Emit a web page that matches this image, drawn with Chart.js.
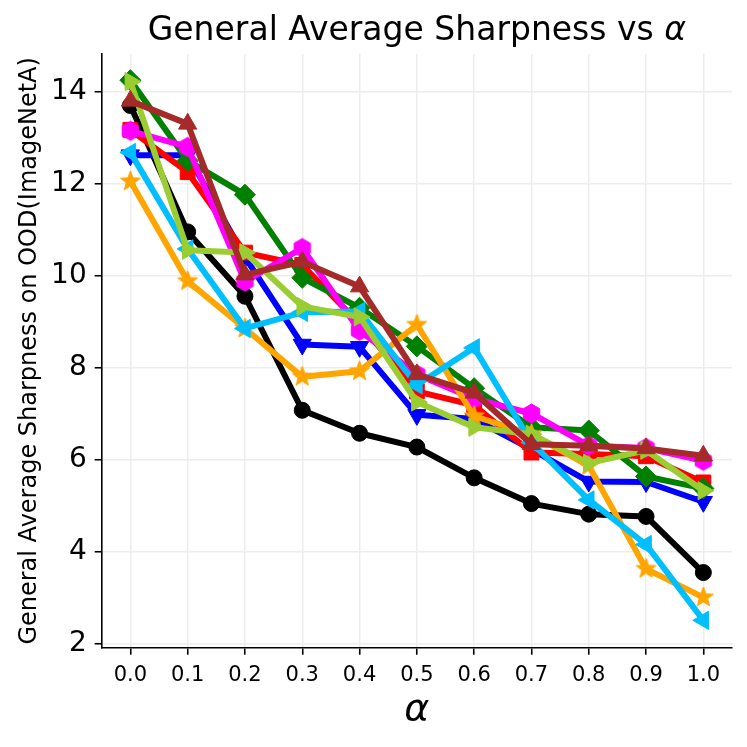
<!DOCTYPE html>
<html><head><meta charset="utf-8">
<script src="https://cdn.jsdelivr.net/npm/chart.js@4.4.1/dist/chart.umd.min.js"></script>
<style>html,body{margin:0;padding:0;background:#fff}#wrap{width:747px;height:747px;position:relative}</style>
</head><body><div id="wrap"><canvas id="c" width="747" height="747"></canvas></div>
<script>
// ---- data ----
const alphaLabels = ['0.0','0.1','0.2','0.3','0.4','0.5','0.6','0.7','0.8','0.9','1.0'];
const yTickValues = [2, 4, 6, 8, 10, 12, 14];
const seriesBlack   = [13.70, 10.95, 9.55, 7.07, 6.57, 6.27, 5.60, 5.04, 4.81, 4.76, 3.54];
const seriesBlue    = [12.62, 12.62, 10.40, 8.50, 8.45, 6.97, 6.88, 6.22, 5.52, 5.51, 5.08];
const seriesRed     = [13.17, 12.25, 10.50, 10.23, 8.95, 7.48, 7.18, 6.15, 6.12, 6.07, 5.50];
const seriesGreen   = [14.25, 12.50, 11.76, 9.95, 9.30, 8.46, 7.55, 6.70, 6.63, 5.63, 5.37];
const seriesMagenta = [13.15, 12.80, 9.87, 10.60, 8.80, 7.85, 7.32, 7.00, 6.30, 6.25, 5.97];
const seriesOrange  = [12.05, 9.88, 8.85, 7.80, 7.92, 8.93, 6.94, 6.55, 5.86, 3.62, 3.00];
const seriesCyan    = [12.68, 10.58, 8.85, 9.20, 9.22, 7.62, 8.43, 6.37, 5.12, 4.15, 2.50];
const seriesLime    = [14.22, 10.55, 10.50, 9.33, 9.10, 7.25, 6.70, 6.55, 5.92, 6.20, 5.32];
const seriesBrown   = [13.80, 13.30, 10.02, 10.30, 9.76, 7.85, 7.45, 6.33, 6.30, 6.24, 6.08];

const titleText = 'General Average Sharpness vs ';
const titleSymbol = 'α';
const yAxisTitle = 'General Average Sharpness on OOD(ImageNetA)';
const xAxisTitle = 'α';

// ---- custom filled markers (hexagon, star) ----
function polygonMarker(color, pts, size) {
  const c = document.createElement('canvas');
  c.width = size; c.height = size;
  const g = c.getContext('2d');
  g.fillStyle = color; g.strokeStyle = color; g.lineWidth = 1;
  g.beginPath();
  pts.forEach((p, i) => { const x = size/2 + p[0], y = size/2 + p[1]; i ? g.lineTo(x, y) : g.moveTo(x, y); });
  g.closePath(); g.fill(); g.stroke();
  return c;
}
function hexagon(color, r) {
  const pts = [];
  for (let i = 0; i < 6; i++) { const a = -Math.PI/2 + i*Math.PI/3; pts.push([r*Math.cos(a), r*Math.sin(a)]); }
  return polygonMarker(color, pts, Math.ceil(2*r + 4));
}
function star(color, r) {
  const pts = [];
  for (let i = 0; i < 10; i++) { const a = -Math.PI/2 + i*Math.PI/5; const rr = i % 2 ? r*0.42 : r; pts.push([rr*Math.cos(a), rr*Math.sin(a)]); }
  return polygonMarker(color, pts, Math.ceil(2*r + 4));
}

const seriesDefs = [
  {data: seriesBlack,   color: '#000000', style: 'circle',   rot: 0,   r: 8},
  {data: seriesBlue,    color: '#0000ff', style: 'triangle', rot: 180, r: 10.5},
  {data: seriesRed,     color: '#ff0000', style: 'rect',     rot: 0,   r: 10.5},
  {data: seriesGreen,   color: '#008000', style: 'rectRot',  rot: 0,   r: 10.5},
  {data: seriesMagenta, color: '#ff00ff', style: hexagon('#ff00ff', 9.5), rot: 0, r: 9},
  {data: seriesOrange,  color: '#ffa500', style: star('#ffa500', 10.5), rot: 0, r: 9},
  {data: seriesCyan,    color: '#00bfff', style: 'triangle', rot: 270, r: 10.5},
  {data: seriesLime,    color: '#9acd32', style: 'triangle', rot: 90,  r: 10.5},
  {data: seriesBrown,   color: '#a52a2a', style: 'triangle', rot: 0,   r: 10.5},
];

const datasets = seriesDefs.map((s, i) => ({
  data: s.data,
  borderColor: s.color,
  backgroundColor: s.color,
  pointBackgroundColor: s.color,
  pointBorderColor: s.color,
  pointStyle: s.style,
  rotation: s.rot,
  pointRadius: s.r,
  pointHoverRadius: s.r,
  pointBorderWidth: 1,
  borderWidth: 6,
  borderJoinStyle: 'round',
  borderCapStyle: 'round',
  tension: 0,
  fill: false,
  order: seriesDefs.length - i,
}));

const FONT = 'DejaVu Sans';

const titlePlugin = {
  id: 'mplTitle',
  afterDraw(chart) {
    const ctx = chart.ctx, a = chart.chartArea;
    ctx.save();
    ctx.fillStyle = '#000';
    ctx.textBaseline = 'middle';
    const normal = '33px "' + FONT + '"';
    const ital = 'italic 33px "' + FONT + '"';
    ctx.font = normal; const w1 = ctx.measureText(titleText).width;
    ctx.font = ital; const w2 = ctx.measureText(titleSymbol).width;
    const cx = (a.left + a.right) / 2;
    const x0 = cx - (w1 + w2) / 2;
    const y = 31;
    ctx.textAlign = 'left';
    ctx.font = normal; ctx.fillText(titleText, x0, y);
    ctx.font = ital; ctx.fillText(titleSymbol, x0 + w1, y);
    ctx.restore();
  }
};

new Chart(document.getElementById('c'), {
  type: 'line',
  data: { labels: alphaLabels, datasets },
  plugins: [titlePlugin],
  options: {
    responsive: false,
    animation: false,
    devicePixelRatio: 1,
    layout: { padding: { top: 54, right: 15, bottom: 0, left: 0 } },
    plugins: { legend: { display: false }, tooltip: { enabled: false }, title: { display: false } },
    scales: {
      x: {
        type: 'category',
        offset: true,
        afterFit(scale) { scale.height = 99.3; },
        grid: { color: '#ededed', lineWidth: 1.5, tickColor: '#000', tickLength: 7, tickWidth: 1.6, offset: false },
        border: { display: true, color: '#000', width: 1.6 },
        ticks: { color: '#000', font: { family: FONT, size: 21 }, padding: 8, maxRotation: 0, autoSkip: false },
        title: { display: true, text: xAxisTitle, color: '#000', font: { family: FONT, size: 38, style: 'italic' }, padding: { top: 0, bottom: 14 } }
      },
      y: {
        type: 'linear',
        min: 1.905,
        max: 14.82,
        afterFit(scale) { scale.width = 101.7; },
        afterBuildTicks(scale) { scale.ticks = yTickValues.map(v => ({ value: v })); },
        grid: { color: '#ededed', lineWidth: 1.5, tickColor: '#000', tickLength: 7, tickWidth: 1.6 },
        border: { display: true, color: '#000', width: 1.6 },
        ticks: { color: '#000', font: { family: FONT, size: 28 }, padding: 8, callback: v => String(v) },
        title: { display: true, text: yAxisTitle, color: '#000', font: { family: FONT, size: 24 }, padding: { top: 15, bottom: 0 } }
      }
    }
  }
});
</script>
</body></html>
